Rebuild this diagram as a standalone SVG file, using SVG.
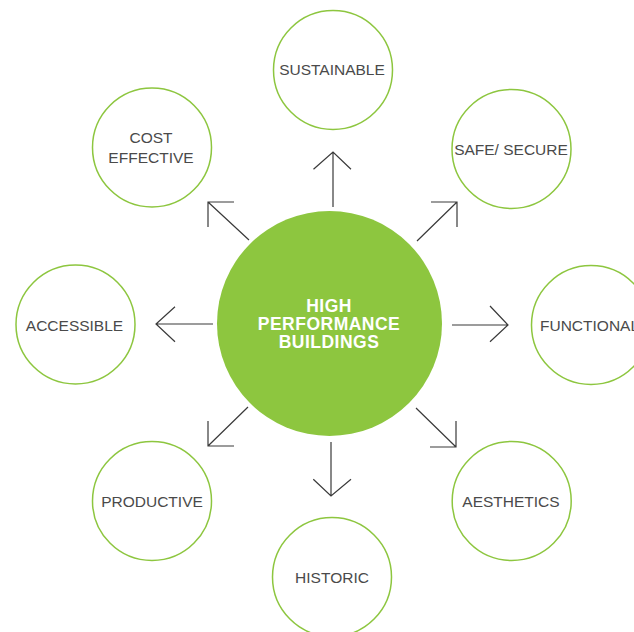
<svg xmlns="http://www.w3.org/2000/svg" width="634" height="632" viewBox="0 0 634 632">
<style>
.sat{fill:#fff;stroke:#8dc63f;stroke-width:1.5}
.lbl{font-family:"Liberation Sans",Arial,sans-serif;font-size:15.5px;fill:#4a4a4a;text-anchor:middle}
.hub{font-family:"Liberation Sans",Arial,sans-serif;font-size:17.5px;font-weight:bold;fill:#fff;text-anchor:middle;letter-spacing:0.5px}
.ar{fill:none;stroke:#3a3a3a;stroke-width:1.2;stroke-linecap:butt;stroke-linejoin:miter}
</style>
<rect width="634" height="632" fill="#fff"/>
<g id="connectors">
<path class="ar" d="M333,207V152M313.5,169.3L333,152L351,169.3"/>
<path class="ar" d="M417,241L457,202M431,202H457V227"/>
<path class="ar" d="M249,240L208,202M234,202H208V227"/>
<path class="ar" d="M213,324H156M175,306.7L156,324L175,341.7"/>
<path class="ar" d="M452,325H508M490,306L508,325L490,341.7"/>
<path class="ar" d="M248,407L208,446M208,421V446H234"/>
<path class="ar" d="M331,442V496M313.3,479.3L331,496L351,479.3"/>
<path class="ar" d="M416,408L456,447M430,447H456V421"/>
</g>
<g id="hub">
<circle cx="329.5" cy="323.5" r="112.5" fill="#8dc63f"/>
<text class="hub" x="329" y="311.5">HIGH</text>
<text class="hub" x="329" y="330">PERFORMANCE</text>
<text class="hub" x="329" y="348.3">BUILDINGS</text>
</g>
<g id="sustainable">
<circle class="sat" cx="333" cy="70" r="59.5"/>
<text class="lbl" x="332" y="75">SUSTAINABLE</text>
</g>
<g id="safe-secure">
<circle class="sat" cx="511.5" cy="149" r="59.5"/>
<text class="lbl" x="511" y="155">SAFE/ SECURE</text>
</g>
<g id="functional">
<circle class="sat" cx="591" cy="325" r="59.5"/>
<text class="lbl" x="540" y="330.7" text-anchor="start" style="text-anchor:start">FUNCTIONAL</text>
</g>
<g id="aesthetics">
<circle class="sat" cx="511.7" cy="501" r="59.5"/>
<text class="lbl" x="511" y="506.7">AESTHETICS</text>
</g>
<g id="historic">
<circle class="sat" cx="332" cy="577" r="59.5"/>
<text class="lbl" x="332" y="582.7">HISTORIC</text>
</g>
<g id="productive">
<circle class="sat" cx="152" cy="501" r="59.5"/>
<text class="lbl" x="152" y="506.7">PRODUCTIVE</text>
</g>
<g id="accessible">
<circle class="sat" cx="75.5" cy="324.5" r="59.5"/>
<text class="lbl" x="74.5" y="330.7">ACCESSIBLE</text>
</g>
<g id="cost-effective">
<circle class="sat" cx="152" cy="147.5" r="59.5"/>
<text class="lbl" x="151" y="143.3">COST</text>
<text class="lbl" x="151" y="163.3">EFFECTIVE</text>
</g>
</svg>
